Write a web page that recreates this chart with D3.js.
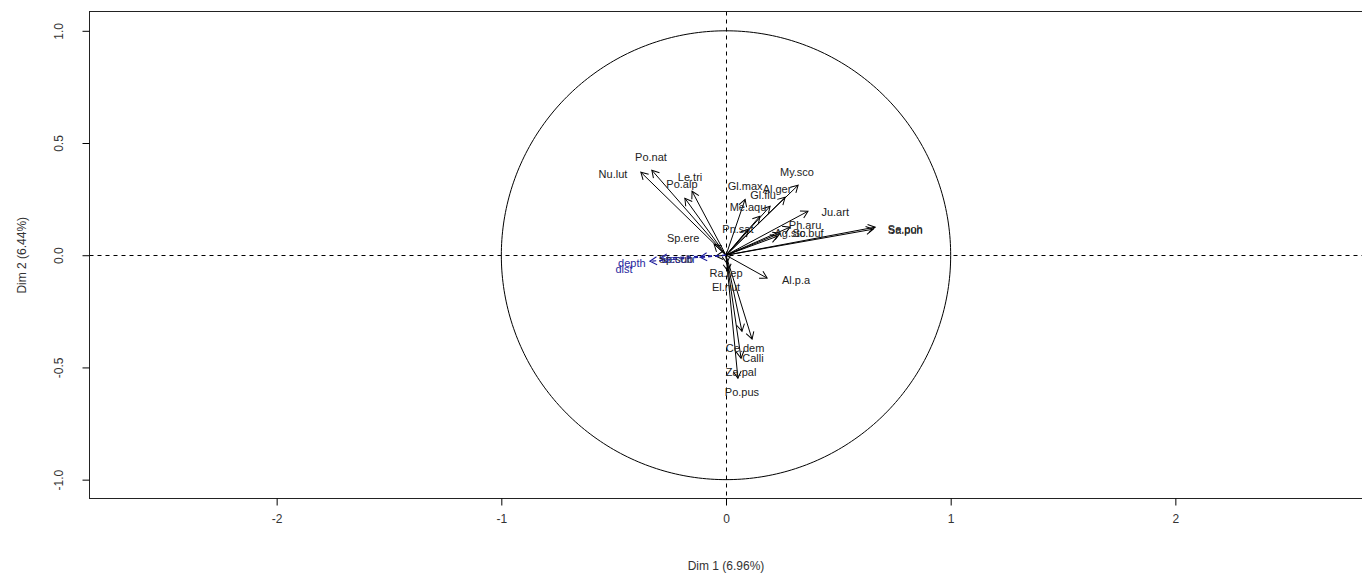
<!DOCTYPE html>
<html><head><meta charset="utf-8">
<script src="https://cdn.jsdelivr.net/npm/d3@7"></script>
<style>body{margin:0;background:#fff}svg text{font-family:"Liberation Sans",Arial,sans-serif}</style>
</head><body>
<svg id="c" width="1362" height="579"></svg>
<script>
// Active variables: name, arrow tip (Dim1, Dim2), label anchor (Dim1, Dim2)
const varNames = ["Nu.lut","Po.nat","Le.tri","Po.alp","Sp.ere","Sp.sub","My.sco","Al.ger","Gl.max","Gl.flu","Me.aqu","Ju.art","Ph.aru","Pn.sat","Ag.sto","Sc.buf","Se.poh","Sa.pun","Ra.rep","El.nut","Al.p.a","Ce.dem","Calli","Za.pal","Po.pus"];
const dim1 = [-0.379,-0.330,-0.151,-0.183,-0.053,-0.045,0.321,0.263,0.085,0.196,0.151,0.365,0.285,0.098,0.241,0.230,0.664,0.655,0.004,0.009,0.183,0.071,0.116,0.067,0.053];
const dim2 = [0.370,0.379,0.285,0.254,0.049,-0.004,0.312,0.258,0.249,0.218,0.174,0.196,0.125,0.116,0.098,0.085,0.125,0.116,-0.036,-0.071,-0.102,-0.339,-0.374,-0.459,-0.548];
const labX = [-0.503,-0.334,-0.160,-0.196,-0.191,-0.223,0.316,0.227,0.085,0.165,0.098,0.486,0.352,0.053,0.285,0.365,0.798,0.798,0.0,0.0,0.312,0.085,0.120,0.067,0.071];
const labY = [0.361,0.437,0.347,0.316,0.076,-0.018,0.370,0.294,0.307,0.267,0.214,0.191,0.134,0.116,0.098,0.098,0.116,0.111,-0.080,-0.143,-0.111,-0.414,-0.459,-0.521,-0.610];
// Supplementary variables (blue, dashed)
const supNames = ["depth","dist","Secchi"];
const supDim1 = [-0.294,-0.339,-0.116];
const supDim2 = [-0.013,-0.027,-0.009];
const supLabX = [-0.419,-0.454,-0.214];
const supLabY = [-0.036,-0.062,-0.018];
const xTicks = [-2,-1,0,1,2];
const yTicks = [-1.0,-0.5,0.0,0.5,1.0];
const xTitle = "Dim 1 (6.96%)";
const yTitle = "Dim 2 (6.44%)";

const svg = d3.select("#c");
const L = 89.5, R = 1362.5, T = 11.5, B = 498.5;
const x = d3.scaleLinear().domain([-2.833, 2.833]).range([L, R]);
const y = d3.scaleLinear().domain([-1.084, 1.086]).range([B, T]);
const hy = s => s.replace("\u2212", "-");

const defs = svg.append("defs");
function marker(id, color){
  defs.append("marker").attr("id", id).attr("viewBox","-10 -6 12 12")
    .attr("refX",0).attr("refY",0).attr("markerWidth",12).attr("markerHeight",12)
    .attr("markerUnits","userSpaceOnUse").attr("orient","auto")
    .append("path").attr("d","M-7,-4L0,0L-7,4").attr("fill","none")
    .attr("stroke",color).attr("stroke-width",1);
}
marker("ah","#000"); marker("ahb","#1a1a9a");

// dashed axes lines
svg.append("line").attr("x1",L).attr("x2",R).attr("y1",Math.round(y(0))+0.5).attr("y2",Math.round(y(0))+0.5)
  .attr("stroke","#000").attr("stroke-dasharray","4,4");
svg.append("line").attr("y1",T).attr("y2",B).attr("x1",Math.round(x(0))+0.5).attr("x2",Math.round(x(0))+0.5)
  .attr("stroke","#000").attr("stroke-dasharray","4,4");

// unit circle
const circ = d3.range(0, 361).map(a => [Math.cos(a*Math.PI/180), Math.sin(a*Math.PI/180)]);
svg.append("path").attr("d", d3.line().x(d=>x(d[0])).y(d=>y(d[1]))(circ))
  .attr("fill","none").attr("stroke","#000").attr("stroke-width",1);

// arrows
svg.append("g").selectAll("line").data(varNames).join("line")
  .attr("x1",x(0)).attr("y1",y(0))
  .attr("x2",(d,i)=>x(dim1[i])).attr("y2",(d,i)=>y(dim2[i]))
  .attr("stroke","#000").attr("stroke-width",1).attr("marker-end","url(#ah)");
svg.append("g").selectAll("line").data(supNames).join("line")
  .attr("x1",x(0)).attr("y1",y(0))
  .attr("x2",(d,i)=>x(supDim1[i])).attr("y2",(d,i)=>y(supDim2[i]))
  .attr("stroke","#1a1a9a").attr("stroke-width",1.2).attr("stroke-dasharray","4,3").attr("marker-end","url(#ahb)");

// labels
svg.append("g").selectAll("text").data(varNames).join("text")
  .attr("x",(d,i)=>x(labX[i])).attr("y",(d,i)=>y(labY[i])).attr("dy","0.35em")
  .attr("text-anchor","middle").attr("font-size",11).attr("fill","#222").text(d=>d);
svg.append("g").selectAll("text").data(supNames).join("text")
  .attr("x",(d,i)=>x(supLabX[i])).attr("y",(d,i)=>y(supLabY[i])).attr("dy","0.35em")
  .attr("text-anchor","middle").attr("font-size",11).attr("fill","#2a2aa0").text(d=>d);

// box
svg.append("rect").attr("x",L).attr("y",T).attr("width",R-L+2).attr("height",B-T)
  .attr("fill","none").attr("stroke","#222").attr("stroke-width",1);

// axes
const xa = svg.append("g").attr("transform",`translate(0,${B})`)
  .call(d3.axisBottom(x).tickValues(xTicks).tickSize(7).tickPadding(9).tickFormat(d=>hy(d3.format("d")(d))));
xa.select(".domain").remove();
xa.selectAll("text").attr("font-size",12).attr("fill","#333").attr("font-family","Liberation Sans, Arial");
const ya = svg.append("g").attr("transform",`translate(${L},0)`)
  .call(d3.axisLeft(y).tickValues(yTicks).tickSize(7).tickFormat(d=>hy(d3.format(".1f")(d))));
ya.select(".domain").remove();
ya.selectAll("text").attr("font-size",12).attr("fill","#333").attr("font-family","Liberation Sans, Arial")
  .attr("text-anchor","middle").attr("dy",0).attr("x",0)
  .attr("transform",function(){return "translate(-27,0) rotate(-90)";});

svg.append("text").attr("x",(x(0))).attr("y",570).attr("text-anchor","middle")
  .attr("font-size",12).attr("fill","#333").text(xTitle);
svg.append("text").attr("transform",`translate(26,${y(0)}) rotate(-90)`).attr("text-anchor","middle")
  .attr("font-size",12).attr("fill","#333").text(yTitle);
</script>
</body></html>
